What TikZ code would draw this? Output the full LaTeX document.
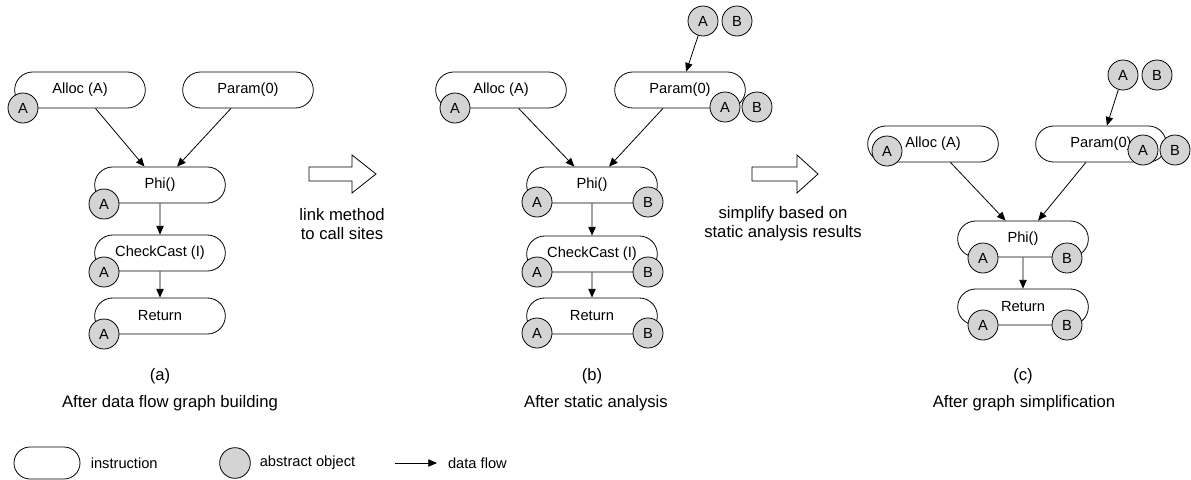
\documentclass[tikz,border=0pt]{standalone}
\usepackage{fontspec}
\setmainfont{Liberation Sans}
\usetikzlibrary{shapes.misc, arrows.meta, positioning}
\definecolor{objgray}{gray}{0.83}

\begin{document}
\begin{tikzpicture}[x=0.75pt, y=-0.75pt, line width=0.6pt, font=\fontsize{11}{13}\selectfont,
  instr/.style={rounded rectangle, draw, fill=white, minimum width=98pt, minimum height=27pt, inner sep=0pt},
  obj/.style={circle, draw, fill=objgray, minimum size=22.5pt, inner sep=0pt},
  txt/.style={inner sep=0pt, align=center},
  big/.style={txt, font=\fontsize{12.5}{14}\selectfont},
  >={Triangle[length=6.5pt, width=5.5pt]}]
  \useasboundingbox (0,0) rectangle (1191,479);

  % (a) after data flow graph building
  \node[instr] (allocA) at (80,90) {Alloc (A)};
  \node[instr] (paramA) at (248,90) {Param(0)};
  \node[instr] (phiA) at (160,185) {Phi()};
  \node[instr] (castA) at (160,253) {CheckCast (I)};
  \node[instr] (retA) at (160,316) {Return};

  \node[obj] (allocAa) at (23,108) {A};
  \node[obj] (phiAa) at (104,204) {A};
  \node[obj] (castAa) at (104,272) {A};
  \node[obj] (retAa) at (104,334) {A};

  \draw[->] (allocA) -- (phiA);
  \draw[->] (paramA) -- (phiA);
  \draw[->] (phiA) -- (castA);
  \draw[->] (castA) -- (retA);

  \node[big] (labA) at (160,376) {(a)};
  \node[big] (capA) at (170,403) {After data flow graph building};

  % link step
  \draw[fill=white] (309,167) -- (352,167) -- (352,155) -- (376,174) -- (352,193) -- (352,181) -- (309,181) -- cycle;
  \node[big] (linkTxt) at (342,224) {link method\\to call sites};

  % (b) after static analysis
  \node[instr] (allocB) at (501,90) {Alloc (A)};
  \node[instr] (paramB) at (680,90) {Param(0)};
  \node[instr] (phiB) at (592,185) {Phi()};
  \node[instr] (castB) at (592,254) {CheckCast (I)};
  \node[instr] (retB) at (592,316) {Return};

  \node[obj] (topBa) at (703,21) {A};
  \node[obj] (topBb) at (737,21) {B};
  \node[obj] (allocBa) at (455,108) {A};
  \node[obj] (paramBa) at (725,107) {A};
  \node[obj] (paramBb) at (757,107) {B};
  \node[obj] (phiBa) at (537,202) {A};
  \node[obj] (phiBb) at (648,202) {B};
  \node[obj] (castBa) at (537,272) {A};
  \node[obj] (castBb) at (648,272) {B};
  \node[obj] (retBa) at (537,333) {A};
  \node[obj] (retBb) at (648,333) {B};

  \draw[->] (topBa) -- (paramB);
  \draw[->] (allocB) -- (phiB);
  \draw[->] (paramB) -- (phiB);
  \draw[->] (phiB) -- (castB);
  \draw[->] (castB) -- (retB);

  \node[big] (labB) at (592,376) {(b)};
  \node[big] (capB) at (596,403) {After static analysis};

  % simplify step
  \draw[fill=white] (752,167) -- (797,167) -- (797,155) -- (818,174) -- (797,193) -- (797,181) -- (752,181) -- cycle;
  \node[big] (simpTxt) at (783,224) {simplify based on\\static analysis results};

  % (c) after graph simplification
  \node[instr] (allocC) at (933,144) {Alloc (A)};
  \node[instr] (paramC) at (1101,144) {Param(0)};
  \node[instr] (phiC) at (1023,239) {Phi()};
  \node[instr] (retC) at (1023,307) {Return};

  \node[obj] (topCa) at (1123,75) {A};
  \node[obj] (topCb) at (1157,75) {B};
  \node[obj] (allocCa) at (887,151) {A};
  \node[obj] (paramCa) at (1143,150) {A};
  \node[obj] (paramCb) at (1175,150) {B};
  \node[obj] (phiCa) at (983,258) {A};
  \node[obj] (phiCb) at (1067,258) {B};
  \node[obj] (retCa) at (983,325) {A};
  \node[obj] (retCb) at (1067,325) {B};

  \draw[->] (topCa) -- (paramC);
  \draw[->] (allocC) -- (phiC);
  \draw[->] (paramC) -- (phiC);
  \draw[->] (phiC) -- (retC);

  \node[big] (labC) at (1023,376) {(c)};
  \node[big] (capC) at (1024,403) {After graph simplification};

  % legend
  \node[instr, minimum width=49.5pt, minimum height=24pt] (legInstr) at (47,463) {};
  \node[txt, right=7.5pt of legInstr] (legInstrTxt) {instruction};
  \node[obj, minimum size=23pt] (legObj) at (235,463) {};
  \node[txt, right=6.5pt of legObj] (legObjTxt) {abstract object};
  \coordinate (legFrom) at (395,463);
  \coordinate (legTo) at (437,463);
  \draw[->] (legFrom) -- (legTo);
  \node[txt, right=8pt of legTo] (legFlowTxt) {data flow};
\end{tikzpicture}
\end{document}
